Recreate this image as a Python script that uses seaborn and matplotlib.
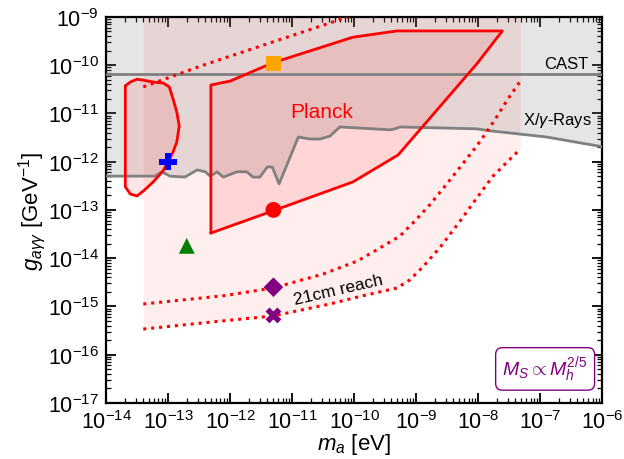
import numpy as np
import pandas as pd
import seaborn as sns
import matplotlib.pyplot as plt
from matplotlib.ticker import LogLocator, NullFormatter

# ---- data (log10 values) ----
# X/gamma-ray bound (gray line)
xray_logm = [-14.0, -13.21, -13.10, -12.97, -12.73, -12.53, -12.40, -12.32, -12.21, -12.11,
             -11.89, -11.73, -11.63, -11.52, -11.40, -11.32, -11.21, -10.90, -10.71, -10.55,
             -10.39, -10.23, -9.42, -9.34, -9.26, -8.02, -7.81, -6.89, -6.0]
xray_logg = [-12.30, -12.30, -12.21, -12.30, -12.32, -12.17, -12.21, -12.30, -12.21, -12.32,
             -12.21, -12.21, -12.32, -12.32, -12.11, -12.11, -12.46, -11.49, -11.53, -11.53,
             -11.47, -11.28, -11.34, -11.32, -11.28, -11.32, -11.36, -11.49, -11.69]
cast_logg = -10.18

# Planck region
planck_logm = [-12.31, -12.31, -12.00, -11.31, -10.02, -9.31, -7.61, -8.02, -9.29, -10.02, -11.31, -12.31]
planck_logg = [-13.48, -10.41, -10.33, -9.95, -9.42, -9.29, -9.29, -9.97, -11.86, -12.42, -13.02, -13.48]

# small closed contour at low mass
blob_logm = [-13.69, -13.69, -13.61, -13.50, -13.40, -13.24, -13.08, -12.92, -12.86, -12.82,
             -12.86, -12.92, -12.98, -13.08, -13.24, -13.40, -13.50, -13.61, -13.69]
blob_logg = [-10.43, -12.52, -12.67, -12.71, -12.61, -12.42, -12.19, -11.80, -11.59, -11.26,
             -10.97, -10.70, -10.45, -10.37, -10.35, -10.31, -10.29, -10.35, -10.43]

# 21cm reach curves (dotted)
upper_logm = [-13.40, -12.48, -10.10]
upper_logg = [-10.45, -10.02, -9.0]
reachA_logm = [-13.40, -12.11, -11.31, -10.50, -9.95, -9.69, -9.26, -9.02, -8.77, -8.53,
               -8.24, -8.02, -7.86, -7.69, -7.52, -7.32]
reachA_logg = [-14.95, -14.78, -14.62, -14.33, -14.06, -13.87, -13.54, -13.23, -12.88, -12.50,
               -12.03, -11.67, -11.38, -11.05, -10.70, -10.33]
reachB_logm = [-13.40, -12.11, -11.31, -10.39, -9.86, -9.31, -9.10, -8.89, -8.61, -8.29,
               -8.02, -7.76, -7.48, -7.32]
reachB_logg = [-15.47, -15.30, -15.20, -14.95, -14.78, -14.62, -14.45, -14.18, -13.77, -13.23,
               -12.75, -12.30, -11.94, -11.74]

# benchmark points
pt_m = [5e-12, 5e-12, 5e-12, 5e-12, 2e-13, 1e-13]
pt_g = [1.1e-10, 1.0e-13, 2.5e-15, 6.5e-16, 1.8e-14, 1.0e-12]
pt_marker = ['s', 'o', 'D', 'X', '^', 'P']
pt_color = ['orange', 'red', 'purple', 'purple', 'green', 'blue']
pt_size = [120, 130, 100, 130, 130, 160]

xmin, xmax = 1e-14, 1e-6
ymin, ymax = 1e-17, 1e-9

sns.set_style("ticks")
plt.rcParams['font.family'] = ['Liberation Sans', 'DejaVu Sans']
plt.rcParams['mathtext.fontset'] = 'custom'
plt.rcParams['mathtext.rm'] = 'Liberation Sans'
plt.rcParams['mathtext.it'] = 'Liberation Sans:italic'
plt.rcParams['mathtext.bf'] = 'Liberation Sans:bold'
for key in ['text.color', 'axes.labelcolor', 'xtick.color', 'ytick.color', 'axes.edgecolor']:
    plt.rcParams[key] = 'black'


def tolin(a):
    return 10.0 ** np.asarray(a)


fig = plt.figure(figsize=(6.24, 4.6), dpi=100)
ax = fig.add_axes([0.170, 0.122, 0.795, 0.839])
ax.set_xscale('log')
ax.set_yscale('log')

# gray excluded region
xm, xg = tolin(xray_logm), tolin(xray_logg)
ax.fill_between(xm, xg, ymax, color='gray', alpha=0.2, lw=0, zorder=1)

# 21cm reach fill
bm, bg = tolin(reachB_logm), tolin(reachB_logg)
ax.fill_between(bm, bg, ymax, color='red', alpha=0.065, lw=0, zorder=1)

# Planck + blob fills
ax.fill(tolin(planck_logm), tolin(planck_logg), color='red', alpha=0.1, lw=0, zorder=2)
ax.fill(tolin(blob_logm), tolin(blob_logg), color='red', alpha=0.1, lw=0, zorder=2)

# gray lines
sns.lineplot(x=xm, y=xg, sort=False, estimator=None, color='gray', lw=2, ax=ax, zorder=3)
ax.axhline(10 ** cast_logg, color='gray', lw=2, zorder=3)

# red solid contours
sns.lineplot(x=tolin(planck_logm), y=tolin(planck_logg), sort=False, estimator=None,
             color='red', lw=2, ax=ax, zorder=4)
sns.lineplot(x=tolin(blob_logm), y=tolin(blob_logg), sort=False, estimator=None,
             color='red', lw=2, ax=ax, zorder=4)

# dotted 21cm curves
for lm, lg in [(upper_logm, upper_logg), (reachA_logm, reachA_logg), (reachB_logm, reachB_logg)]:
    sns.lineplot(x=tolin(lm), y=tolin(lg), sort=False, estimator=None, color='red',
                 lw=2.2, ls=(0, (1, 1.6)), ax=ax, zorder=4)

# benchmark markers
pts = pd.DataFrame({'m': pt_m, 'g': pt_g})
for i in range(len(pts)):
    sns.scatterplot(x=[pts.m[i]], y=[pts.g[i]], marker=pt_marker[i], color=pt_color[i],
                    s=pt_size[i], edgecolor='none', linewidth=0, ax=ax, zorder=6)

# labels inside the plot
ax.text(10 ** -10.52, 10 ** -10.95, 'Planck', color='red', fontsize=15, ha='center', va='center', zorder=7)
ax.text(10 ** -6.22, 10 ** -10.13, 'CAST', fontsize=12, ha='right', va='bottom', zorder=7)
ax.text(10 ** -6.16, 10 ** -11.32, r'X/$\gamma$-Rays', fontsize=12, ha='right', va='bottom', zorder=7)
ax.text(10 ** -10.26, 10 ** -14.64, '21cm reach', fontsize=12.5, ha='center', va='center',
        rotation=13, zorder=7)
ax.text(0.885, 0.088, r'$M_S \propto M_h^{2/5}$', transform=ax.transAxes, color='purple',
        fontsize=14, ha='center', va='center', zorder=7,
        bbox=dict(boxstyle='round,pad=0.35', fc='white', ec='purple', lw=1))

ax.set_xlim(xmin, xmax)
ax.set_ylim(ymin, ymax)
ax.set_xticks(10.0 ** np.arange(-14, -5))
ax.set_yticks(10.0 ** np.arange(-17, -8))
for axis in [ax.xaxis, ax.yaxis]:
    axis.set_minor_locator(LogLocator(base=10, subs=np.arange(2, 10), numticks=100))
    axis.set_minor_formatter(NullFormatter())
ax.tick_params(which='both', direction='in', top=True, right=True, labelsize=15.5)
ax.tick_params(which='major', length=7, width=1.3, pad=5)
ax.tick_params(which='minor', length=3.5, width=0.9)
for s in ax.spines.values():
    s.set_linewidth(1.6)

ax.set_xlabel(r'$m_a$ [eV]', fontsize=16, labelpad=-1)
ax.set_ylabel(r'$g_{a\gamma\gamma}$ [GeV$^{-1}$]', fontsize=16, labelpad=0)

fig.savefig('out.png', dpi=100)
